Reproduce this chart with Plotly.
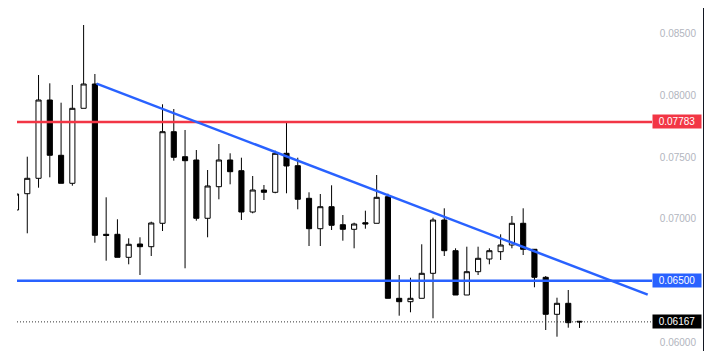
import plotly.graph_objects as go

# ---- data ----
idx = list(range(51))
opens = [0.070716, 0.072033, 0.073278, 0.079608, 0.075138, 0.072874, 0.078937, 0.080901, 0.068751, 0.068751,
         0.066892, 0.067967, 0.067749, 0.069641, 0.077045, 0.075025, 0.074758, 0.070045, 0.072599, 0.074758,
         0.073893, 0.070554, 0.072332, 0.072146, 0.075299, 0.074297, 0.071661, 0.069204, 0.070982, 0.069527,
         0.069155, 0.069689, 0.069641, 0.071791, 0.063577, 0.063303, 0.063577, 0.065598, 0.069907, 0.067425,
         0.063844, 0.065728, 0.066754, 0.067345, 0.067886, 0.069641, 0.067539, 0.065275, 0.062284, 0.063173,
         0.061720]
highs = [0.072009, 0.075025, 0.081629, 0.080958, 0.079390, 0.080821, 0.085671, 0.081710, 0.071742, 0.069964,
         0.068428, 0.068509, 0.069770, 0.079260, 0.078880, 0.077183, 0.075566, 0.073949, 0.076051, 0.075299,
         0.074944, 0.073464, 0.072737, 0.075509, 0.077910, 0.074944, 0.072146, 0.072009, 0.072712, 0.070311,
         0.069689, 0.070659, 0.073545, 0.072033, 0.065461, 0.065243, 0.067943, 0.070093, 0.070853, 0.067619,
         0.067749, 0.067749, 0.067619, 0.068751, 0.070231, 0.070853, 0.067539, 0.065380, 0.063626, 0.064248,
         0.061740]
lows = [0.070716, 0.068832, 0.072518, 0.073359, 0.072874, 0.072680, 0.078937, 0.068072, 0.066617, 0.066892,
        0.066326, 0.065461, 0.066997, 0.069018, 0.074701, 0.066003, 0.069851, 0.068509, 0.071581, 0.072793,
        0.069907, 0.070449, 0.071524, 0.072066, 0.072066, 0.070772, 0.067805, 0.067805, 0.069099, 0.068234,
        0.067619, 0.069204, 0.069641, 0.063577, 0.062171, 0.062446, 0.063577, 0.061961, 0.066997, 0.063844,
        0.063844, 0.065461, 0.066326, 0.066674, 0.067619, 0.067078, 0.064467, 0.061015, 0.060473, 0.061201,
        0.061180]
closes = [0.072009, 0.073278, 0.079608, 0.075138, 0.072874, 0.078937, 0.080901, 0.068670, 0.068660, 0.066892,
          0.067943, 0.067749, 0.069665, 0.077045, 0.074976, 0.074701, 0.070045, 0.072656, 0.074758, 0.073812,
          0.070554, 0.072332, 0.072146, 0.075299, 0.074273, 0.071581, 0.069204, 0.070982, 0.069479, 0.069155,
          0.069584, 0.069584, 0.071742, 0.063577, 0.063303, 0.063577, 0.065598, 0.069907, 0.067425, 0.063844,
          0.065728, 0.066811, 0.067425, 0.067886, 0.069641, 0.067539, 0.065275, 0.062284, 0.063173, 0.061605,
          0.061670]

tick_vals = [0.060, 0.065, 0.070, 0.075, 0.080, 0.085]
tick_text = ["0.06000", "0.06500", "0.07000", "0.07500", "0.08000", "0.08500"]

resistance = 0.07783
support = 0.06500
last_price = 0.06167
level_labels = ["0.07783", "0.06500", "0.06167"]

trend_x = [7.15, 56.05]
trend_y = [0.080926, 0.063868]

RED = "#f23645"
BLUE = "#2962ff"

fig = go.Figure()
fig.add_trace(go.Candlestick(
    x=idx, open=opens, high=highs, low=lows, close=closes,
    increasing=dict(line=dict(color="#000000", width=1), fillcolor="#ffffff"),
    decreasing=dict(line=dict(color="#000000", width=1), fillcolor="#000000"),
    whiskerwidth=0, hoverinfo="skip", showlegend=False,
))

shapes = [
    dict(type="line", xref="x domain", yref="y", x0=0, x1=1, y0=resistance, y1=resistance,
         line=dict(color=RED, width=2.5)),
    dict(type="line", xref="x domain", yref="y", x0=0, x1=1, y0=support, y1=support,
         line=dict(color=BLUE, width=2.5)),
    dict(type="line", xref="x domain", yref="y", x0=0, x1=1, y0=last_price, y1=last_price,
         line=dict(color="#333333", width=1, dash="1px,2px")),
    dict(type="line", xref="x", yref="y", x0=trend_x[0], x1=trend_x[1], y0=trend_y[0], y1=trend_y[1],
         line=dict(color=BLUE, width=2.5)),
]

annotations = []
for val, txt, col in zip([resistance, support, last_price], level_labels, [RED, BLUE, "#000000"]):
    annotations.append(dict(
        xref="x domain", yref="y", x=1.0, y=val, xanchor="left", yanchor="middle",
        text=txt, showarrow=False, bgcolor=col, width=46, height=11, borderpad=1,
        font=dict(color="#ffffff", size=10, family="Liberation Sans"), align="center",
    ))

fig.update_layout(
    width=696, height=343,
    margin=dict(l=9, r=1, t=0, b=0),
    paper_bgcolor="#ffffff", plot_bgcolor="#ffffff",
    boxgap=0.35,
    shapes=shapes, annotations=annotations,
    showlegend=False,
    xaxis=dict(domain=[0, 635 / 686], range=[0.089, 56.43], visible=False,
               rangeslider=dict(visible=False), fixedrange=True),
    yaxis=dict(range=[0.059317, 0.087045], side="right", anchor="free", position=1.0,
               tickvals=tick_vals, ticktext=tick_text,
               showgrid=False, zeroline=False, showline=True, linecolor="#131722", linewidth=1,
               ticks="", ticklabelposition="inside", ticklabelstandoff=6,
               tickfont=dict(color="#b2b5be", size=10, family="Liberation Sans")),
    font=dict(family="Liberation Sans"),
)

fig.write_html("out.html")
